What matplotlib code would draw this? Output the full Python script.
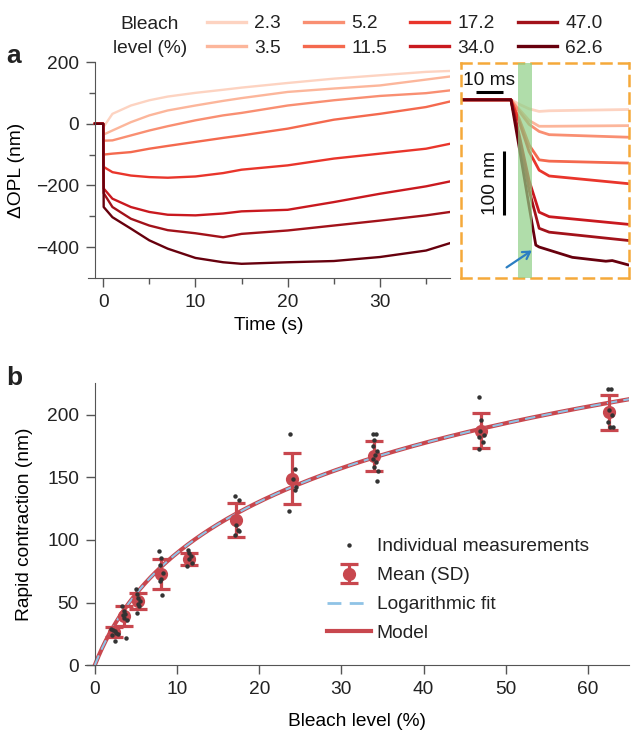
import matplotlib
matplotlib.use("Agg")
import matplotlib.pyplot as plt
import numpy as np
from matplotlib.lines import Line2D
from matplotlib.patches import FancyArrowPatch

FS = 13.8
plt.rcParams['font.family'] = ['Liberation Sans', 'DejaVu Sans']
plt.rcParams['font.size'] = FS
plt.rcParams['axes.edgecolor'] = '#555555'
plt.rcParams['xtick.color'] = '#555555'
plt.rcParams['ytick.color'] = '#555555'
plt.rcParams['xtick.labelcolor'] = '#222222'
plt.rcParams['ytick.labelcolor'] = '#222222'
plt.rcParams['text.color'] = '#222222'

# ---------------- Panel a data ----------------
bleach_levels = ["2.3", "3.5", "5.2", "11.5", "17.2", "34.0", "47.0", "62.6"]
trace_colors = ["#fdd3c1", "#fcb69b", "#f98f72", "#f4694e", "#e9352b", "#c9191f", "#a2121a", "#67000d"]
time_s = [-0.9, 0.0, 0.05, 1, 3, 5, 7, 10, 13, 15, 20, 25, 30, 35, 37.6]
opl_23 = [0, 0, -10, 32, 59, 76, 88, 100, 110, 117, 132, 146, 157, 168, 171]
opl_35 = [0, 0, -35, -22, 5, 27, 43, 59, 74, 83, 103, 114, 124, 143, 153]
opl_52 = [0, 0, -55, -54, -38, -22, -8, 11, 27, 35, 59, 76, 90, 99, 108]
opl_115 = [0, 0, -100, -97, -92, -81, -72, -59, -46, -38, -16, 13, 32, 54, 72]
opl_172 = [0, 0, -140, -157, -168, -173, -175, -171, -160, -149, -135, -113, -97, -81, -65]
opl_340 = [0, 0, -210, -243, -270, -286, -295, -297, -291, -284, -279, -254, -227, -203, -187]
opl_470 = [0, 0, -225, -270, -308, -330, -345, -355, -368, -357, -346, -330, -314, -297, -286]
opl_626 = [0, 0, -270, -303, -340, -378, -405, -435, -449, -454, -449, -445, -432, -411, -387]
traces = [opl_23, opl_35, opl_52, opl_115, opl_172, opl_340, opl_470, opl_626]

# inset (fast phase, ms)
inset_t = [-17, 0, 3, 6.5, 10.1, 13.7, 42.3]
ins_23 = [0, 0, -7, -14, -18, -17, -15]
ins_35 = [0, 0, -15, -32, -41, -41, -40]
ins_52 = [0, 0, -18, -38, -49, -54, -58]
ins_115 = [0, 0, -30, -70, -93, -95, -98]
ins_172 = [0, 0, -35, -80, -109, -118, -130]
ins_340 = [0, 0, -55, -125, -174, -181, -193]
ins_470 = [0, 0, -60, -140, -199, -205, -218]
inset_traces = [ins_23, ins_35, ins_52, ins_115, ins_172, ins_340, ins_470]
inset_t_626 = [-17, 0, 3, 6.5, 8.9, 10.1, 22, 34, 36.3, 42.3]
ins_626 = [0, 0, -75, -165, -225, -228, -244, -250, -249, -256]

# ---------------- Panel b data ----------------
mean_x = [2.3, 3.5, 5.2, 8.1, 11.5, 17.2, 24.0, 34.0, 47.0, 62.6]
mean_y = [26.4, 39, 51, 73, 85, 116, 149, 167.5, 187.5, 202]
sd_y = [4, 8, 6.3, 12, 5, 13.5, 20.5, 12, 14.3, 13.7]
indiv_x = [2.0, 2.2, 2.4, 2.6, 2.8, 2.1, 2.5,
           3.3, 3.5, 3.7, 3.4, 3.6, 3.9, 3.8,
           5.0, 5.1, 5.3, 5.5, 5.2, 5.4, 5.1,
           7.8, 8.0, 7.9, 8.3, 8.0, 7.9, 8.2,
           11.3, 11.5, 11.7, 11.4, 11.8, 11.2,
           17.0, 17.5, 17.2, 17.4, 17.6, 17.1,
           23.8, 24.3, 24.1, 24.5, 24.4, 23.6,
           33.8, 34.2, 34.0, 33.9, 34.3, 34.1, 33.8, 34.2, 34.0, 34.5, 34.3,
           46.8, 47.0, 46.9, 47.3, 46.7, 47.2, 46.8,
           62.4, 62.8, 62.6, 62.9, 62.5, 62.7, 63.0]
indiv_y = [29, 28, 27, 26, 25, 24, 19,
           47, 43, 41, 40, 38, 36, 22,
           61, 57, 54, 51, 49, 47, 42,
           91, 86, 80, 74, 69, 67, 56,
           92, 90, 87, 85, 82, 79,
           135, 132, 112, 108, 107, 104,
           185, 157, 149, 142, 140, 123,
           185, 185, 180, 175, 171, 168, 165, 162, 158, 155, 147,
           214, 196, 187, 184, 182, 178, 173,
           221, 221, 204, 200, 194, 190, 190]
# logarithmic fit y = A*ln(1 + B*x)
fit_A = 79.2
fit_B = 0.21

red = "#c8474e"
blue = "#8fc3e6"

fig = plt.figure(figsize=(6.31, 7.30), dpi=100)

# ---------------- Panel a ----------------
ax = fig.add_axes([88/631, 1-278/730, 362/631, 216/730])
for tr, c in zip(traces, trace_colors):
    ax.plot(time_s, tr, color=c, lw=1.7, solid_joinstyle='round')
ax.set_xlim(-1.65, 37.6)
ax.set_ylim(-500, 200)
ax.spines['left'].set_position(('data', -0.9))
ax.set_xticks(np.arange(0, 36, 10))
ax.set_xticks(np.arange(5, 36, 10), minor=True)
ax.set_yticks([-400, -200, 0, 200])
ax.set_yticks([-300, -100, 100], minor=True)
for s in ['top', 'right']:
    ax.spines[s].set_visible(False)
ax.tick_params(which='major', length=6.5, width=1, pad=5)
ax.tick_params(which='minor', length=4.5, width=1)
ax.set_xlabel("Time (s)", labelpad=4)
ax.set_ylabel("ΔOPL (nm)", labelpad=8)

# legend a
handles = [Line2D([], [], color=c, lw=2.4) for c in trace_colors]
fig.legend(handles, bleach_levels, ncol=4, loc='upper left',
           bbox_to_anchor=(207/631, 1 - 15/730), frameon=False,
           handlelength=2.05, handletextpad=0.42, columnspacing=1.2,
           labelspacing=0.36, fontsize=FS, borderpad=0, borderaxespad=0)
fig.text(150/631, 1 - 29.3/730, "Bleach", ha='center', va='baseline', fontsize=FS)
fig.text(150/631, 1 - 52.7/730, "level (%)", ha='center', va='baseline', fontsize=FS)

fig.text(6/631, 1 - 56/730, "a", fontsize=19, fontweight='bold', va='center', ha='left')
fig.text(6/631, 1 - 378/730, "b", fontsize=19, fontweight='bold', va='center', ha='left')

# inset
axi = fig.add_axes([461/631, 1 - 278/730, 168/631, 215/730])
axi.set_xlim(-17.9, 42.3)
axi.set_ylim(-276, 57)
for tr, c in zip(inset_traces, trace_colors[:-1]):
    axi.plot(inset_t, tr, color=c, lw=2.0, solid_joinstyle='round')
axi.plot(inset_t_626, ins_626, color=trace_colors[-1], lw=2.0, solid_joinstyle='round')
axi.axvspan(2.6, 7.5, color='#8fcf86', alpha=0.7, lw=0, zorder=3)
axi.set_xticks([])
axi.set_yticks([])
for s in axi.spines.values():
    s.set_linestyle((0, (4, 3)))
    s.set_color('#f5a93a')
    s.set_linewidth(1.8)
axi.patch.set_alpha(0)
# scale bars
axi.plot([-12.7, -2.7], [12, 12], color='black', lw=2.2, solid_capstyle='butt')
axi.text(-7.9, 17, "10 ms", ha='center', va='bottom', fontsize=FS, color='#111111')
axi.plot([-2.6, -2.6], [-79, -179], color='black', lw=2.2, solid_capstyle='butt')
axi.text(-4.4, -129, "100 nm", ha='right', va='center', rotation=90, fontsize=FS, color='#111111')
axi.add_patch(FancyArrowPatch((-2.4, -262), (8.3, -231), arrowstyle='->,head_length=5,head_width=3',
                              color='#2b7ec2', lw=1.6, zorder=5, mutation_scale=1))

# ---------------- Panel b ----------------
bx = fig.add_axes([85/631, 1 - 665/730, 544/631, 282/730])
xs = np.linspace(0, 65, 300)
bx.plot(xs, fit_A * np.log(1 + fit_B * xs), color=red, lw=3.0, zorder=2)
bx.plot(xs, fit_A * np.log(1 + fit_B * xs), color=blue, lw=1.5, dashes=(5, 3), zorder=3)
eb = bx.errorbar(mean_x, mean_y, yerr=sd_y, fmt='o', color=red, ms=8.5, elinewidth=2.3,
                 capsize=6.5, capthick=2.3, zorder=4)
bx.plot(indiv_x, indiv_y, 'o', color='#333333', ms=3.2, mec='none', zorder=5)
bx.set_xlim(-1.2, 65)
bx.set_ylim(0, 225.6)
bx.spines['left'].set_position(('data', 0))
bx.set_xticks(np.arange(0, 61, 10))
bx.set_yticks(np.arange(0, 201, 50))
for s in ['top', 'right']:
    bx.spines[s].set_visible(False)
bx.tick_params(which='major', length=6.5, width=1, pad=5)
bx.set_xlabel("Bleach level (%)", labelpad=11)
bx.set_ylabel("Rapid contraction (nm)", labelpad=10)

h_ind = Line2D([], [], ls='none', marker='o', color='#333333', ms=3.2, mec='none')
h_fit = Line2D([], [], color=blue, lw=2.0, dashes=(5, 3))
h_mod = Line2D([], [], color=red, lw=3.0)
bx.legend([h_ind, eb, h_fit, h_mod],
          ["Individual measurements", "Mean (SD)", "Logarithmic fit", "Model"],
          loc='upper left', bbox_to_anchor=((327 - 85)/544, 1 - (538 - 383)/282),
          frameon=False, handlelength=2.3, handletextpad=0.3, labelspacing=0.6,
          fontsize=FS, borderpad=0, borderaxespad=0)

fig.savefig("out.png", dpi=100)
